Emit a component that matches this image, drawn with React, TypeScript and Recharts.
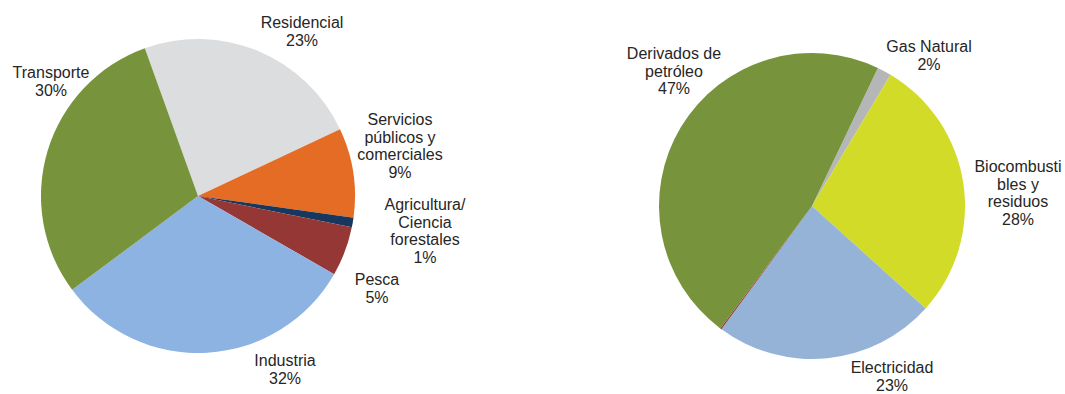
import React from 'react';
import { PieChart, Pie, Cell } from 'recharts';

// Consumo por sector (left pie), clockwise from the Residencial / Transporte edge
const sectorNames = [
  'Residencial',
  'Servicios públicos y comerciales',
  'Agricultura/ Ciencia forestales',
  'Pesca',
  'Industria',
  'Transporte',
];
const sectorShares = [23.5, 9.2, 1.0, 5.1, 31.5, 29.7];
const sectorPercents = ['23%', '9%', '1%', '5%', '32%', '30%'];
const sectorLabelLines = [
  ['Residencial'],
  ['Servicios', 'públicos y', 'comerciales'],
  ['Agricultura/', 'Ciencia', 'forestales'],
  ['Pesca'],
  ['Industria'],
  ['Transporte'],
];

// Consumo por fuente (right pie), clockwise from the Derivados / Gas edge
const sourceNames = ['Gas Natural', 'Biocombustibles y residuos', 'Electricidad', 'Carbón', 'Derivados de petróleo'];
const sourceShares = [1.5, 28.1, 23.4, 0.15, 46.85];
const sourcePercents = ['2%', '28%', '23%', '', '47%'];
const sourceLabelLines = [
  ['Gas Natural'],
  ['Biocombusti', 'bles y', 'residuos'],
  ['Electricidad'],
  [],
  ['Derivados de', 'petróleo'],
];

const sectorColors = ['#dcddde', '#e46c24', '#17375e', '#953735', '#8db3e2', '#77933c'];
const sourceColors = ['#b4b6b8', '#d2dc28', '#95b3d7', '#953735', '#77933c'];

// label anchor (centre x, first baseline) relative to each pie's centre
const sectorLabelOffsets = [
  [104, -168],
  [202, -71],
  [227, 14],
  [179, 89],
  [87, 170],
  [-147, -118],
];
const sourceLabelOffsets = [
  [117, -154],
  [206, -34],
  [80, 167],
  [0, 0],
  [-138, -147],
];

const sectorData = sectorNames.map((name, i) => ({ name, value: sectorShares[i] }));
const sourceData = sourceNames.map((name, i) => ({ name, value: sourceShares[i] }));

const FONT = '"Liberation Sans", Arial, sans-serif';
const LINE = 17.6;

function makeLabel(lines: string[][], percents: string[], offsets: number[][]) {
  return (props: any) => {
    const { cx, cy, index } = props;
    const rows = [...lines[index], percents[index]].filter((t) => t !== '');
    if (rows.length === 0) return null;
    const x = cx + offsets[index][0];
    const y = cy + offsets[index][1];
    return (
      <text
        key={`lbl-${index}`}
        x={x}
        y={y}
        textAnchor="middle"
        fill="#262626"
        fontSize={16}
        fontFamily={FONT}
      >
        {rows.map((r, k) => (
          <tspan key={k} x={x} y={y + k * LINE}>
            {r}
          </tspan>
        ))}
      </text>
    );
  };
}

export default function App() {
  return (
    <div style={{ position: 'absolute', left: 0, top: 0, width: 1065, height: 394, background: '#fff' }}>
      <PieChart width={1065} height={394} margin={{ top: 0, right: 0, bottom: 0, left: 0 }}>
        <Pie
          data={sectorData}
          dataKey="value"
          nameKey="name"
          cx={198}
          cy={196}
          outerRadius={157}
          startAngle={109.8}
          endAngle={109.8 - 360}
          stroke="none"
          labelLine={false}
          label={makeLabel(sectorLabelLines, sectorPercents, sectorLabelOffsets)}
          isAnimationActive={false}
        >
          {sectorData.map((d, i) => (
            <Cell key={d.name} fill={sectorColors[i]} />
          ))}
        </Pie>
        <Pie
          data={sourceData}
          dataKey="value"
          nameKey="name"
          cx={812}
          cy={206}
          outerRadius={153}
          startAngle={64.5}
          endAngle={64.5 - 360}
          stroke="none"
          labelLine={false}
          label={makeLabel(sourceLabelLines, sourcePercents, sourceLabelOffsets)}
          isAnimationActive={false}
        >
          {sourceData.map((d, i) => (
            <Cell key={d.name} fill={sourceColors[i]} />
          ))}
        </Pie>
      </PieChart>
    </div>
  );
}
